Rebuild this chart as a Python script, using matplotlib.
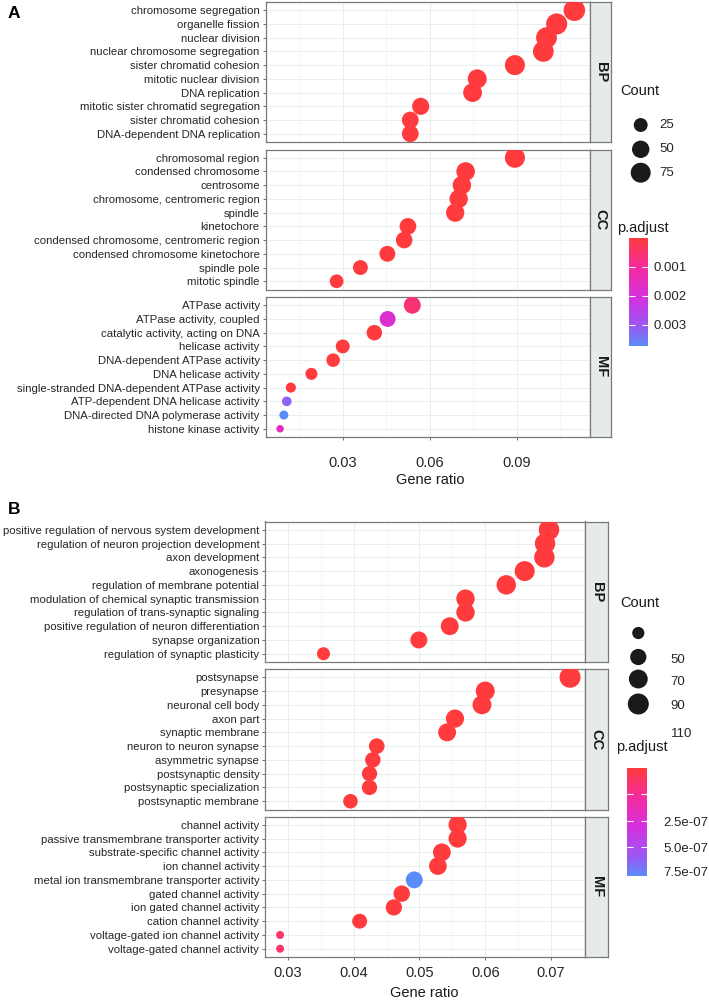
import numpy as np
import matplotlib.pyplot as plt
from matplotlib.colors import LinearSegmentedColormap, Normalize
from matplotlib.cm import ScalarMappable

plt.rcParams['font.family'] = ['Liberation Sans', 'DejaVu Sans']

W, H = 709, 1000

# ---------------- panel A data ----------------
a_bp_terms = ['chromosome segregation', 'organelle fission', 'nuclear division',
              'nuclear chromosome segregation', 'sister chromatid cohesion',
              'mitotic nuclear division', 'DNA replication',
              'mitotic sister chromatid segregation', 'sister chromatid cohesion',
              'DNA-dependent DNA replication']
a_bp_ratio = [0.1099, 0.1038, 0.1003, 0.0992, 0.0894, 0.0764, 0.0748, 0.0569, 0.0533, 0.0533]
a_bp_count = [93, 88, 85, 84, 76, 65, 63, 48, 45, 45]
a_bp_padj = [1e-30, 2e-25, 3e-24, 5e-24, 1e-20, 4e-18, 2e-16, 6e-12, 3e-11, 8e-11]

a_cc_terms = ['chromosomal region', 'condensed chromosome', 'centrosome',
              'chromosome, centromeric region', 'spindle', 'kinetochore',
              'condensed chromosome, centromeric region',
              'condensed chromosome kinetochore', 'spindle pole', 'mitotic spindle']
a_cc_ratio = [0.0894, 0.0724, 0.0711, 0.0700, 0.0688, 0.0525, 0.0512, 0.0454, 0.0361, 0.0279]
a_cc_count = [76, 61, 60, 59, 58, 44, 43, 38, 31, 24]
a_cc_padj = [1e-22, 3e-20, 2e-12, 5e-18, 1e-14, 2e-15, 6e-15, 1e-13, 4e-9, 2e-8]

a_mf_terms = ['ATPase activity', 'ATPase activity, coupled',
              'catalytic activity, acting on DNA', 'helicase activity',
              'DNA-dependent ATPase activity', 'DNA helicase activity',
              'single-stranded DNA-dependent ATPase activity',
              'ATP-dependent DNA helicase activity',
              'DNA-directed DNA polymerase activity', 'histone kinase activity']
a_mf_ratio = [0.0540, 0.0455, 0.0409, 0.0300, 0.0267, 0.0192, 0.0121, 0.0107, 0.0097, 0.0084]
a_mf_count = [46, 38, 35, 25, 23, 16, 10, 9, 8, 7]
a_mf_padj = [0.00056, 0.0018, 2e-6, 1e-6, 3e-6, 1e-5, 4e-5, 0.0032, 0.00373, 0.00157]

a_size_breaks = [25, 50, 75]
a_p_ticks = [0.001, 0.002, 0.003]

# ---------------- panel B data ----------------
b_bp_terms = ['positive regulation of nervous system development',
              'regulation of neuron projection development', 'axon development',
              'axonogenesis', 'regulation of membrane potential',
              'modulation of chemical synaptic transmission',
              'regulation of trans-synaptic signaling',
              'positive regulation of neuron differentiation',
              'synapse organization', 'regulation of synaptic plasticity']
b_bp_ratio = [0.0697, 0.0691, 0.0690, 0.0660, 0.0632, 0.0570, 0.0570, 0.0546, 0.0499, 0.0354]
b_bp_count = [105, 104, 104, 100, 95, 86, 86, 82, 75, 53]
b_bp_padj = [1e-20, 2e-19, 3e-19, 1e-17, 5e-16, 2e-14, 2e-14, 1e-12, 3e-12, 1e-9]

b_cc_terms = ['postsynapse', 'presynapse', 'neuronal cell body', 'axon part',
              'synaptic membrane', 'neuron to neuron synapse', 'asymmetric synapse',
              'postsynaptic density', 'postsynaptic specialization',
              'postsynaptic membrane']
b_cc_ratio = [0.0729, 0.0600, 0.0595, 0.0554, 0.0542, 0.0435, 0.0429, 0.0424, 0.0424, 0.0395]
b_cc_count = [110, 91, 90, 84, 82, 66, 65, 64, 64, 60]
b_cc_padj = [1e-25, 1e-18, 3e-17, 2e-16, 5e-16, 1e-12, 2e-12, 4e-12, 4e-12, 1e-10]

b_mf_terms = ['channel activity', 'passive transmembrane transporter activity',
              'substrate-specific channel activity', 'ion channel activity',
              'metal ion transmembrane transporter activity', 'gated channel activity',
              'ion gated channel activity', 'cation channel activity',
              'voltage-gated ion channel activity', 'voltage-gated channel activity']
b_mf_ratio = [0.0558, 0.0558, 0.0534, 0.0528, 0.0492, 0.0473, 0.0461, 0.0409, 0.0288, 0.0288]
b_mf_count = [84, 84, 81, 80, 74, 71, 70, 62, 43, 43]
b_mf_padj = [1e-12, 1e-12, 5e-12, 8e-12, 1.02e-6, 2e-11, 5e-11, 3e-9, 1.3e-7, 1.3e-7]

b_size_breaks = [50, 70, 90, 110]
b_p_ticks = [2.5e-7, 5.0e-7, 7.5e-7]
b_p_labels = ['2.5e-07', '5.0e-07', '7.5e-07']

# red (low p) -> blue (high p)
cmap = LinearSegmentedColormap.from_list(
    'padj', [(0, '#FF3B3E'), (0.28, '#F42BA0'), (0.55, '#D431E0'),
             (0.82, '#9A58F2'), (1, '#5A8DF8')])

fig = plt.figure(figsize=(W / 100, H / 100), dpi=100)


def px_rect(x0, y0, x1, y1):
    return [x0 / W, 1 - y1 / H, (x1 - x0) / W, (y1 - y0) / H]


def dot_size(count, cmin, cmax, dmin, dmax):
    frac = (np.asarray(count, float) - cmin) / (cmax - cmin)
    d_px = dmin + (dmax - dmin) * np.sqrt(np.clip(frac, 0, 1))
    return (d_px * 0.72) ** 2


def draw_facets(facets, tops, height, x0, x1, strip_w, xlim, majors, minors,
                norm, size_args, xpad):
    for i, (name, terms, ratio, count, padj) in enumerate(facets):
        ax = fig.add_axes(px_rect(x0, tops[i], x1, tops[i] + height))
        n = len(terms)
        ypos = np.arange(n, 0, -1)
        ax.scatter(ratio, ypos, s=dot_size(count, *size_args), c=padj,
                   cmap=cmap, norm=norm, linewidths=0, zorder=3)
        ax.set_xlim(xlim)
        ax.set_ylim(0.4, n + 0.6)
        ax.set_yticks(ypos)
        ax.set_yticklabels(terms)
        ax.set_xticks(majors)
        ax.set_xticks(minors, minor=True)
        ax.grid(True, which='major', color='#E9EFEF', lw=0.7)
        ax.grid(True, which='minor', axis='x', color='#F0F4F4', lw=0.45)
        ax.set_axisbelow(True)
        ax.tick_params(axis='y', length=2.3, width=0.6, color='#555555',
                       pad=2, labelsize=8.2, labelcolor='#262626')
        ax.tick_params(axis='x', which='minor', length=0)
        if i == len(facets) - 1:
            ax.set_xticklabels(['%g' % v for v in majors])
            ax.tick_params(axis='x', which='major', length=2.3, width=0.6,
                           color='#555555', pad=xpad, labelsize=10.5,
                           labelcolor='#262626')
        else:
            ax.tick_params(axis='x', which='major', length=0, labelbottom=False)
        for sp in ax.spines.values():
            sp.set_color('#7A7A7A')
            sp.set_linewidth(0.9)

        sax = fig.add_axes(px_rect(x1, tops[i], x1 + strip_w, tops[i] + height))
        sax.set_facecolor('#E6EAEA')
        sax.set_xticks([])
        sax.set_yticks([])
        for sp in sax.spines.values():
            sp.set_color('#7A7A7A')
            sp.set_linewidth(0.9)
        sax.text(0.5, 0.5, name, rotation=270, ha='center', va='center',
                 fontsize=10.5, fontweight='bold', color='#1A1A1A',
                 transform=sax.transAxes)


# ---------------- panel A ----------------
a_facets = [('BP', a_bp_terms, a_bp_ratio, a_bp_count, a_bp_padj),
            ('CC', a_cc_terms, a_cc_ratio, a_cc_count, a_cc_padj),
            ('MF', a_mf_terms, a_mf_ratio, a_mf_count, a_mf_padj)]
a_counts = a_bp_count + a_cc_count + a_mf_count
a_padj = a_bp_padj + a_cc_padj + a_mf_padj
a_norm = Normalize(min(a_padj), max(a_padj))
a_size = (min(a_counts), max(a_counts), 7.5, 21.5)
draw_facets(a_facets, [2, 149.5, 297], 140, 265.6, 590, 21,
            (0.0034, 0.1153), [0.03, 0.06, 0.09], [0.015, 0.045, 0.075, 0.105],
            a_norm, a_size, 11.5)

# ---------------- panel B ----------------
b_facets = [('BP', b_bp_terms, b_bp_ratio, b_bp_count, b_bp_padj),
            ('CC', b_cc_terms, b_cc_ratio, b_cc_count, b_cc_padj),
            ('MF', b_mf_terms, b_mf_ratio, b_mf_count, b_mf_padj)]
b_counts = b_bp_count + b_cc_count + b_mf_count
b_padj = b_bp_padj + b_cc_padj + b_mf_padj
b_norm = Normalize(min(b_padj), max(b_padj))
b_size = (min(b_counts), max(b_counts), 8, 21)
draw_facets(b_facets, [521.5, 669, 816.5], 140.5, 265.3, 585.3, 22.4,
            (0.02655, 0.07522), [0.03, 0.04, 0.05, 0.06, 0.07],
            [0.035, 0.045, 0.055, 0.065], b_norm, b_size, 4)

# colour bars
cax_a = fig.add_axes(px_rect(629, 238, 648.3, 346))
cb_a = fig.colorbar(ScalarMappable(a_norm, cmap), cax=cax_a, ticks=a_p_ticks)
cb_a.outline.set_visible(False)
cax_a.invert_yaxis()
cax_a.tick_params(direction='in', length=4, width=0.8, color='white',
                  left=True, right=True, labelsize=9.5, labelcolor='#262626', pad=4)
cax_a.set_yticklabels(['%g' % t for t in a_p_ticks])

cax_b = fig.add_axes(px_rect(626.7, 768, 646.7, 876))
cb_b = fig.colorbar(ScalarMappable(b_norm, cmap), cax=cax_b, ticks=b_p_ticks)
cb_b.outline.set_visible(False)
cax_b.invert_yaxis()
cax_b.tick_params(direction='in', length=4, width=0.8, color='white',
                  left=True, right=True, labelright=False)

# overlay for legends and labels, in pixel coordinates
lax = fig.add_axes([0, 0, 1, 1])
lax.set_xlim(0, W)
lax.set_ylim(H, 0)
lax.axis('off')

lax.text(8, 13, 'A', fontsize=12.5, fontweight='bold', ha='left', va='center')
lax.text(8, 510, 'B', fontsize=12.5, fontweight='bold', ha='left', va='center')
lax.text(430, 480, 'Gene ratio', fontsize=10.5, ha='center', va='center', color='#1A1A1A')
lax.text(424, 993, 'Gene ratio', fontsize=10.5, ha='center', va='center', color='#1A1A1A')

# size legend A
lax.text(620, 91, 'Count', fontsize=10.5, ha='left', va='center', color='#1A1A1A')
a_leg_y = [125, 149.3, 172.7]
lax.scatter([640.7] * 3, a_leg_y, s=dot_size(a_size_breaks, *a_size),
            color='#1A1A1A', linewidths=0)
for yy, v in zip(a_leg_y, a_size_breaks):
    lax.text(659, yy, str(v), fontsize=9.5, ha='left', va='center', color='#262626')
lax.text(617, 227.7, 'p.adjust', fontsize=10.5, ha='left', va='center', color='#1A1A1A')

# size legend B (labels sit one row below their keys, as in the original)
lax.text(620, 603, 'Count', fontsize=10.5, ha='left', va='center', color='#1A1A1A')
b_leg_y = [633, 657, 679, 704]
lax.scatter([638.3] * 4, b_leg_y, s=dot_size(b_size_breaks, *b_size),
            color='#1A1A1A', linewidths=0)
for yy, v in zip([660, 681.7, 706, 734], b_size_breaks):
    lax.text(670.7, yy, str(v), fontsize=9.5, ha='left', va='center', color='#262626')
lax.text(616, 746.7, 'p.adjust', fontsize=10.5, ha='left', va='center', color='#1A1A1A')
for yy, lab in zip([822.7, 849, 872.7], b_p_labels):
    lax.text(663, yy, lab, fontsize=9.5, ha='left', va='center', color='#262626')

fig.savefig('out.png', dpi=100)
